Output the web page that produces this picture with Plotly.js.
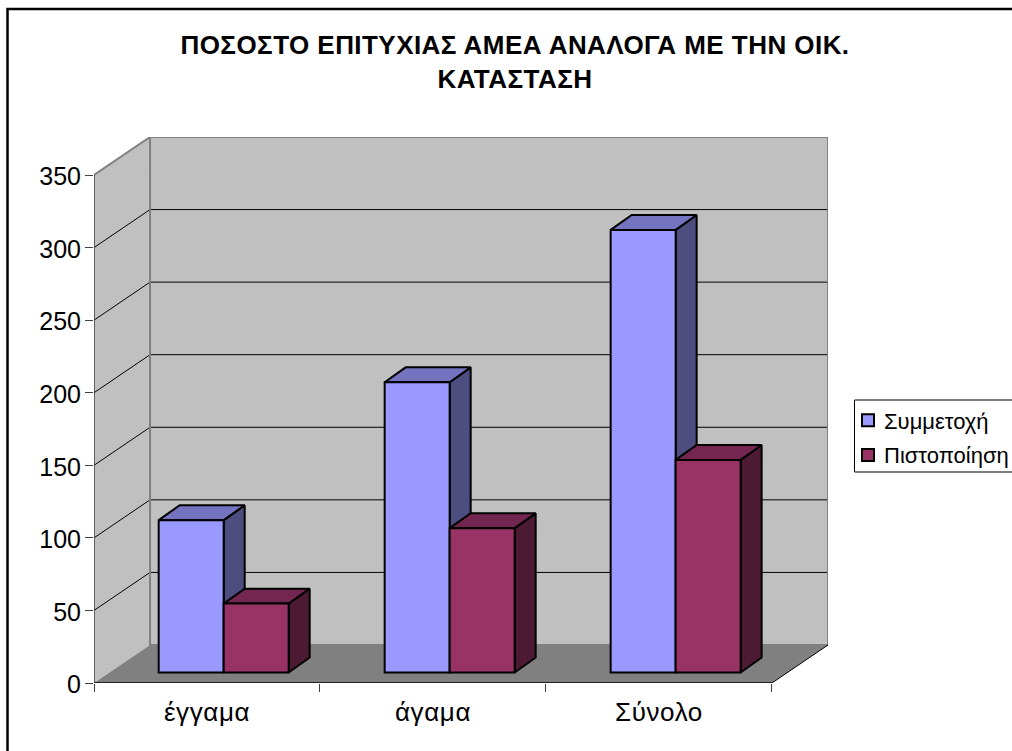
<!DOCTYPE html>
<html><head><meta charset="utf-8">
<script src="https://cdn.plot.ly/plotly-3.0.1.min.js"></script>
<style>html,body{margin:0;padding:0;background:#fff;overflow:hidden}
.gtitle{letter-spacing:.45px}
.xtick text{letter-spacing:.6px}
.ytick text{translate:1px 1.5px}
.legend .legendpoints{transform:translateX(4px)}
</style>
</head><body><div id="chart" style="width:1012px;height:751px"></div>
<script>
const categories = ["έγγαμα", "άγαμα", "Σύνολο"];
const participation = [105, 200, 305];
const certification = [47.5, 99.5, 146.5];
const yTicks = [0, 50, 100, 150, 200, 250, 300, 350];

const FONT = '"Liberation Sans", Arial, sans-serif';
const wallDx = 0.248, wallDy = 26.2;
const barDx = 0.093, barDy = 10.3;
const planeDx = 0.0738, planeDy = 7.2;
const barW = 0.2876;
const nCat = categories.length, yMax = 350;

const poly = (xs, ys, fill, lineColor, lineW) => ({
  type: 'scatter', mode: lineW ? 'lines' : 'none', x: xs, y: ys, fill: 'toself', fillcolor: fill,
  line: {color: lineColor || fill, width: lineW || 0}, showlegend: false, hoverinfo: 'skip', cliponaxis: false, zorder: 0
});
const path = (xs, ys, color, w, z) => ({
  type: 'scatter', mode: 'lines', x: xs, y: ys, line: {color, width: w}, showlegend: false,
  hoverinfo: 'skip', cliponaxis: false, zorder: z || 0
});

const traces = [];
traces.push(poly([0, wallDx, wallDx, 0, 0], [0, wallDy, yMax + wallDy, yMax, 0], '#C0C0C0'));
traces.push(poly([wallDx, nCat + wallDx, nCat + wallDx, wallDx, wallDx], [wallDy, wallDy, yMax + wallDy, yMax + wallDy, wallDy], '#C0C0C0'));
traces.push(poly([0, nCat, nCat + wallDx, wallDx, 0], [0, 0, wallDy, wallDy, 0], '#808080'));
yTicks.slice(1, -1).forEach(v => traces.push(path([0, wallDx, nCat + wallDx], [v, v + wallDy, v + wallDy], '#000000', 1)));
traces.push(path([0, wallDx, nCat + wallDx, nCat + wallDx, wallDx, wallDx], [yMax, yMax + wallDy, yMax + wallDy, wallDy, wallDy, yMax + wallDy], '#808080', 2));
traces.push(path([nCat, nCat + wallDx], [0, wallDy], '#000000', 1));
traces.push(path([0, 0], [0, yMax], '#404040', 1.5));
traces.push(path([0, nCat], [0, 0], '#000000', 1.5));

function addSeries(name, values, shift, front, side, top, z) {
  const centers = categories.map((_, i) => i + 0.5 + planeDx);
  centers.forEach((c, i) => {
    const x0 = c + shift, x1 = x0 + barW, h = planeDy + values[i];
    traces.push(Object.assign(poly([x1, x1 + barDx, x1 + barDx, x1, x1], [planeDy, planeDy + barDy, h + barDy, h, planeDy], side, '#000000', 2), {zorder: z}));
    traces.push(Object.assign(poly([x0, x0 + barDx, x1 + barDx, x1, x0], [h, h + barDy, h + barDy, h, h], top, '#000000', 2), {zorder: z}));
  });
  traces.push({
    type: 'bar', name, legendgroup: name, x: centers, y: values, base: planeDy, width: barW, offset: shift,
    marker: {color: front, line: {color: '#000000', width: 2}}, hoverinfo: 'skip', zorder: z + 1, cliponaxis: false
  });
}
addSeries('Συμμετοχή', participation, -barW, '#9999FF', '#4D4D80', '#7373BF', 1);
addSeries('Πιστοποίηση', certification, 0, '#993366', '#4D1A33', '#732650', 3);

const layout = {
  width: 1012, height: 751,
  margin: {l: 94, r: 184, t: 137, b: 68, pad: 0},
  paper_bgcolor: '#FFFFFF', plot_bgcolor: 'rgba(0,0,0,0)',
  font: {family: FONT, color: '#000000'},
  barmode: 'overlay',
  title: {text: 'ΠΟΣΟΣΤΟ ΕΠΙΤΥΧΙΑΣ ΑΜΕΑ ΑΝΑΛΟΓΑ ΜΕ ΤΗΝ ΟΙΚ.<br>ΚΑΤΑΣΤΑΣΗ', font: {family: FONT, size: 26, color: '#000000', weight: 700},
    x: (515 - 94) / 734, xanchor: 'center', xref: 'paper', y: 0.928, yanchor: 'middle', automargin: false},
  xaxis: {range: [0, nCat + wallDx], showgrid: false, zeroline: false, showline: false,
    tickmode: 'array', tickvals: categories.map((_, i) => i + 0.5), ticktext: categories, ticks: '',
    minor: {tickmode: 'linear', tick0: 0, dtick: 1, ticks: 'outside', ticklen: 8, tickwidth: 1, tickcolor: '#404040', showgrid: false},
    tickfont: {family: FONT, size: 26, color: '#000000'}, ticklabelstandoff: 11, automargin: false, fixedrange: true},
  yaxis: {range: [0, yMax + wallDy], showgrid: false, zeroline: false, showline: false,
    tickmode: 'array', tickvals: yTicks, ticks: 'outside', ticklen: 8, tickwidth: 1, tickcolor: '#404040',
    tickfont: {family: FONT, size: 25, color: '#000000'}, automargin: false, fixedrange: true},
  legend: {xref: 'container', yref: 'container', x: 844 / 1012, xanchor: 'left', y: 1 - 438 / 751, yanchor: 'middle',
    bgcolor: 'rgba(0,0,0,0)', borderwidth: 0, font: {family: FONT, size: 22, color: '#000000'}, traceorder: 'grouped', itemclick: false, itemdoubleclick: false, tracegroupgap: 3},
  showlegend: true,
  shapes: [
    {type: 'rect', xref: 'paper', yref: 'paper', layer: 'below', x0: (7.5 - 94) / 734, x1: (1016 - 94) / 734, y0: (683 - 760) / 546, y1: (683 - 9) / 546, line: {color: '#000000', width: 2.5}, fillcolor: 'rgba(0,0,0,0)'},
    {type: 'rect', xref: 'paper', yref: 'paper', layer: 'below', x0: (854.5 - 94) / 734, x1: (1016 - 94) / 734, y0: (683 - 472) / 546, y1: (683 - 400) / 546, line: {color: '#000000', width: 1}, fillcolor: '#FFFFFF'}
  ]
};
Plotly.newPlot('chart', traces, layout, {displayModeBar: false, staticPlot: true});
</script></body></html>
